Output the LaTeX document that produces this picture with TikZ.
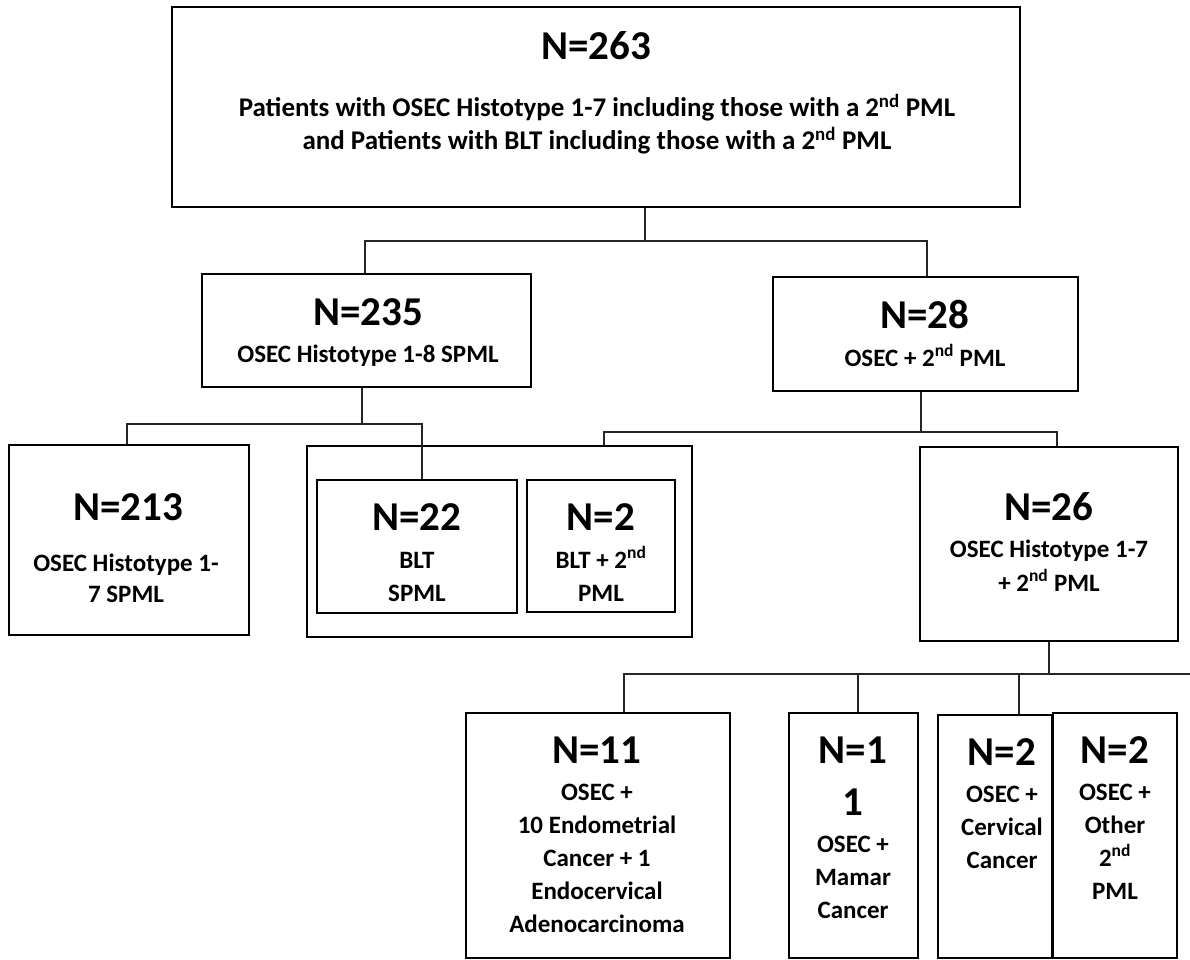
\documentclass[tikz,border=0pt]{standalone}
\usepackage{fontspec}
\setmainfont{Carlito}
\begin{document}
\begin{tikzpicture}[x=1pt,y=-1pt,
  box/.style={draw=black, line width=1.8pt, inner sep=0pt, fill=none},
  conn/.style={draw=black!85, line width=1.1pt},
  big/.style={anchor=base, inner sep=0pt, align=center, font=\fontsize{41}{52}\selectfont\bfseries},
  sub/.style={anchor=base, inner sep=0pt, align=center, font=\fontsize{25}{33}\selectfont\bfseries},
  topsub/.style={anchor=base, inner sep=0pt, align=center, font=\fontsize{27}{33}\selectfont\bfseries}]
\useasboundingbox (0,0) rectangle (1190,960);

% boxes
\node[box, minimum width=848pt, minimum height=200pt] (top) at (596,107) {};
\node[box, minimum width=329pt, minimum height=113pt] (b235) at (366.5,330.5) {};
\node[box, minimum width=305pt, minimum height=114pt] (b28) at (925.5,334) {};
\node[box, minimum width=240pt, minimum height=190pt] (b213) at (129,540) {};
\node[box, minimum width=385pt, minimum height=191pt] (grp) at (499.5,541.5) {};
\node[box, minimum width=200pt, minimum height=133pt] (b22) at (417,546.5) {};
\node[box, minimum width=148pt, minimum height=132pt] (b2) at (601,546) {};
\node[box, minimum width=258pt, minimum height=194pt] (b26) at (1049,544) {};
\node[box, minimum width=264pt, minimum height=245pt] (b11) at (598,835.5) {};
\node[box, minimum width=129pt, minimum height=245pt] (b1) at (853.5,835.5) {};
\node[box, minimum width=114pt, minimum height=243pt] (bcv) at (995,836.5) {};
\node[box, minimum width=124pt, minimum height=245pt] (bot) at (1115,835.5) {};

% texts (anchor base = baseline of the last line)
\node[big] (n263) at (596,60) {N=263};
\node[topsub] (s263) at (597,150) {Patients with OSEC Histotype 1-7 including those with a 2\textsuperscript{nd} PML\\and Patients with BLT including those with a 2\textsuperscript{nd} PML};
\node[big] (n235) at (368,325) {N=235};
\node[sub] (s235) at (368,362) {OSEC Histotype 1-8 SPML};
\node[big] (n28) at (925,328) {N=28};
\node[sub] (s28) at (925,366) {OSEC + 2\textsuperscript{nd} PML};
\node[big] (n213) at (128,520) {N=213};
\node[sub, font=\fontsize{25}{31}\selectfont\bfseries] (s213) at (126,602) {OSEC Histotype 1-\\7 SPML};
\node[big] (n22) at (417,530) {N=22};
\node[sub] (s22) at (417,601) {BLT\\SPML};
\node[big] (n2a) at (601,530) {N=2};
\node[sub] (s2a) at (601,601) {BLT + 2\textsuperscript{nd}\\PML};
\node[big] (n26) at (1049,520) {N=26};
\node[sub, font=\fontsize{25}{34}\selectfont\bfseries] (s26) at (1049,591) {OSEC Histotype 1-7\\+ 2\textsuperscript{nd} PML};
\node[big] (n11) at (597,763) {N=11};
\node[sub] (s11) at (597,932) {OSEC +\\10 Endometrial\\Cancer + 1\\Endocervical\\Adenocarcinoma};
\node[big] (n1) at (853,815) {N=1\\1};
\node[sub] (s1) at (853,918) {OSEC +\\Mamar\\Cancer};
\node[big] (n2b) at (1002,765) {N=2};
\node[sub] (s2b) at (1002,868) {OSEC +\\Cervical\\Cancer};
\node[big] (n2c) at (1115,763) {N=2};
\node[sub] (s2c) at (1115,899) {OSEC +\\Other\\2\textsuperscript{nd}\\PML};

% connectors
\coordinate (j1) at (645,241);
\coordinate (j1l) at (365,241);
\coordinate (j1r) at (927,241);
\draw[conn] (top.south -| j1) -- (j1);
\draw[conn] (b235.north -| j1l) -- (j1l) -- (j1r) -- (b28.north -| j1r);

\coordinate (j2) at (362,424);
\coordinate (j2l) at (127,424);
\coordinate (j2r) at (422,424);
\draw[conn] (b235.south -| j2) -- (j2);
\draw[conn] (b213.north -| j2l) -- (j2l) -- (j2r) -- (b22.north -| j2r);

\coordinate (j3) at (921,432);
\coordinate (j3l) at (604,432);
\coordinate (j3r) at (1057,432);
\draw[conn] (b28.south -| j3) -- (j3);
\draw[conn] (grp.north -| j3l) -- (j3l) -- (j3r) -- (b26.north -| j3r);

\coordinate (j4) at (1049,674);
\coordinate (j4l) at (624,674);
\coordinate (j4a) at (858,674);
\coordinate (j4b) at (1019,674);
\coordinate (j4r) at (1190,674);
\draw[conn] (b26.south -| j4) -- (j4);
\draw[conn] (b11.north -| j4l) -- (j4l) -- (j4r);
\draw[conn] (j4a) -- (b1.north -| j4a);
\draw[conn] (j4b) -- (bcv.north -| j4b);
\end{tikzpicture}
\end{document}
